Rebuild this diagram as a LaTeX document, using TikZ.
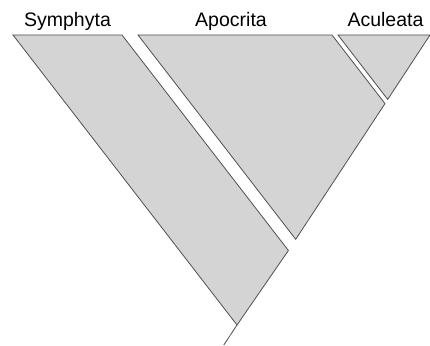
\documentclass[tikz,border=0pt]{standalone}
\usepackage{fontspec}
\setmainfont{Liberation Sans}
\definecolor{cladefill}{RGB}{212,212,212}
\definecolor{cladeline}{RGB}{80,80,80}
\begin{document}
\begin{tikzpicture}[x=1pt,y=-1pt,
  clade/.style={fill=cladefill,draw=cladeline,line width=0.8pt,line join=miter},
  stemline/.style={draw=cladeline,line width=0.8pt},
  lbl/.style={font=\fontsize{19.5}{22}\selectfont,anchor=base,inner sep=0pt}]
\useasboundingbox (0,0) rectangle (430,345);
% corners
\coordinate (apex) at (237,325);
\coordinate (stemend) at (223.8,345);
\coordinate (s1) at (13,35);
\coordinate (s2) at (122,35);
\coordinate (s3) at (288.4,250.5);
\coordinate (p1) at (138,35);
\coordinate (p2) at (332,35);
\coordinate (p3) at (385,103.6);
\coordinate (p4) at (295.7,239.3);
\coordinate (a1) at (338,35);
\coordinate (a2) at (430,35);
\coordinate (a3) at (387.7,99.4);
% clades
\path[clade] (s1) -- (s2) -- (s3) -- (apex) -- cycle;
\path[clade] (p1) -- (p2) -- (p3) -- (p4) -- cycle;
\path[clade] (a1) -- (a2) -- (a3) -- cycle;
\draw[stemline] (apex) -- (stemend);
% labels
\node[lbl] (lsym) at (67.5,27) {Symphyta};
\node[lbl] (lapo) at (231,27) {Apocrita};
\node[lbl] (lacu) at (385.5,27) {Aculeata};
\end{tikzpicture}
\end{document}
